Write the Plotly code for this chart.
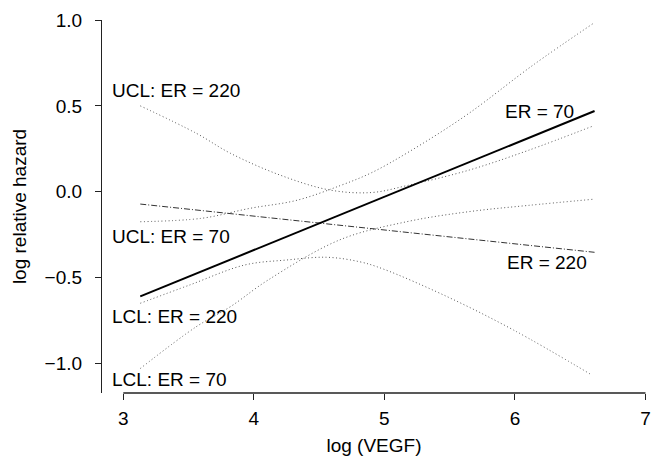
import plotly.graph_objects as go

# ---- data ----
# fitted lines (log relative hazard vs log VEGF)
fit_x = [3.13, 6.61]
fit_er70 = [-0.61, 0.47]
fit_er220 = [-0.072, -0.353]

# confidence limits, ER = 70
ucl70_x = [3.13, 3.6, 3.97, 4.33, 4.66, 4.9, 5.19, 5.63, 6.14, 6.6]
ucl70_y = [-0.175, -0.155, -0.097, -0.05, 0.035, 0.11, 0.233, 0.447, 0.738, 0.98]
lcl70_x = [3.13, 3.56, 3.82, 4.11, 4.66, 5.17, 5.65, 6.1, 6.6]
lcl70_y = [-1.03, -0.786, -0.67, -0.514, -0.28, -0.175, -0.116, -0.08, -0.044]

# confidence limits, ER = 220
ucl220_x = [3.13, 3.56, 3.82, 4.2, 4.58, 4.9, 5.17, 5.65, 6.1, 6.6]
ucl220_y = [0.50, 0.34, 0.224, 0.097, 0.01, -0.005, 0.035, 0.126, 0.24, 0.383]
lcl220_x = [3.13, 3.51, 3.93, 4.25, 4.56, 4.81, 4.99, 5.48, 5.99, 6.59]
lcl220_y = [-0.65, -0.543, -0.427, -0.398, -0.382, -0.408, -0.45, -0.611, -0.806, -1.068]

x_ticks = [3, 4, 5, 6, 7]
y_ticks = [-1.0, -0.5, 0.0, 0.5, 1.0]

labels = ["UCL: ER = 220", "UCL: ER = 70", "LCL: ER = 220", "LCL: ER = 70", "ER = 70", "ER = 220"]
label_x = [2.906, 2.906, 2.906, 2.906, 5.92, 5.93]
label_y = [0.588, -0.262, -0.724, -1.095, 0.466, -0.414]

FONT = "Liberation Sans, Arial, Helvetica, sans-serif"
dot_style = dict(color="#555555", width=1, dash="1px,2.5px")

fig = go.Figure()
fig.add_trace(go.Scatter(x=ucl220_x, y=ucl220_y, mode="lines", line=dict(shape="spline", **dot_style)))
fig.add_trace(go.Scatter(x=lcl220_x, y=lcl220_y, mode="lines", line=dict(shape="spline", **dot_style)))
fig.add_trace(go.Scatter(x=ucl70_x, y=ucl70_y, mode="lines", line=dict(shape="spline", **dot_style)))
fig.add_trace(go.Scatter(x=lcl70_x, y=lcl70_y, mode="lines", line=dict(shape="spline", **dot_style)))
fig.add_trace(go.Scatter(x=fit_x, y=fit_er220, mode="lines",
                         line=dict(color="#333333", width=1, dash="6px,2px,1px,2px")))
fig.add_trace(go.Scatter(x=fit_x, y=fit_er70, mode="lines",
                         line=dict(color="black", width=2)))

for t, lx, ly in zip(labels, label_x, label_y):
    fig.add_annotation(x=lx, y=ly, text=t, showarrow=False, xanchor="left", yanchor="middle",
                       font=dict(size=19, color="black", family=FONT), borderpad=0)

# x axis line only spans the tick range (3..7)
fig.add_shape(type="line", xref="x", yref="paper", x0=x_ticks[0], x1=x_ticks[-1], y0=0, y1=0,
              line=dict(color="#222222", width=1.3))

fig.update_layout(
    width=653, height=457,
    margin=dict(l=102, r=7, t=20, b=64, autoexpand=False),
    paper_bgcolor="white", plot_bgcolor="white",
    showlegend=False,
    hovermode=False,
    font=dict(family=FONT, size=19, color="black"),
    xaxis=dict(range=[2.837, 7.004], tickvals=x_ticks, ticks="outside", ticklen=6, tickwidth=1.3,
               tickcolor="#222222", showgrid=False, zeroline=False, showline=False,
               ticklabelstandoff=2, automargin=False,
               title=dict(text="log (VEGF)", standoff=10, font=dict(size=19))),
    yaxis=dict(range=[-1.1725, 1.0], tickvals=y_ticks, tickformat=".1f", ticks="outside", ticklen=6,
               tickwidth=1.3, tickcolor="#222222", showgrid=False, zeroline=False,
               showline=True, linecolor="#222222", linewidth=1.3,
               ticklabelstandoff=9, automargin=False,
               title=dict(text="log relative hazard", standoff=12, font=dict(size=19))),
)

# remove the default page margin so the figure fills the window exactly
fig.write_html("out.html", config={"displayModeBar": False},
               post_script="document.body.style.margin='0';document.body.style.overflow='hidden';")
